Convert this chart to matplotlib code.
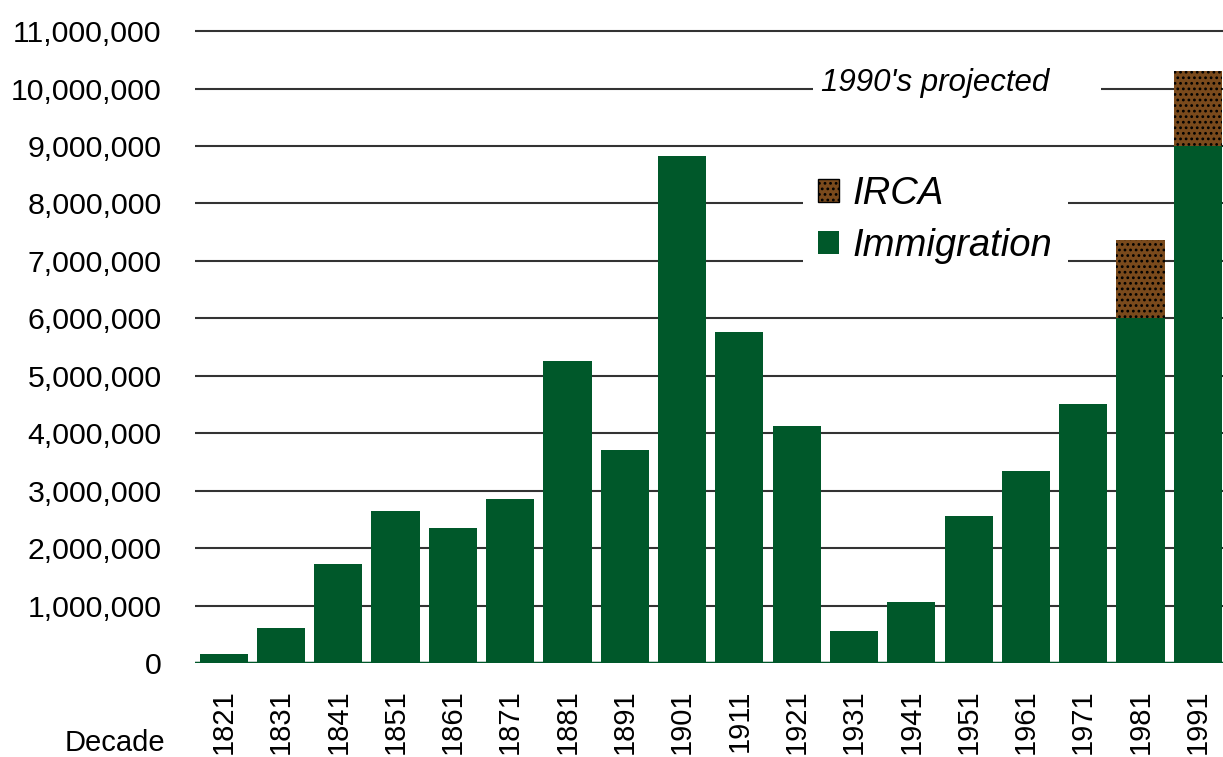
import matplotlib.pyplot as plt
from matplotlib.patches import Patch
from matplotlib.ticker import FuncFormatter

plt.rcParams['font.family'] = ['Liberation Sans', 'DejaVu Sans']
plt.rcParams['hatch.color'] = 'black'
plt.rcParams['hatch.linewidth'] = 1.2

# datos
decadas = ['1821', '1831', '1841', '1851', '1861', '1871', '1881', '1891', '1901',
           '1911', '1921', '1931', '1941', '1951', '1961', '1971', '1981', '1991']
inmigracion = [155000, 605000, 1720000, 2640000, 2350000, 2850000, 5260000, 3710000, 8820000,
               5760000, 4130000, 560000, 1060000, 2560000, 3340000, 4500000, 6000000, 9000000]
irca = [0, 0, 0, 0, 0, 0, 0, 0, 0, 0, 0, 0, 0, 0, 0, 0, 1360000, 1300000]

verde = '#00582a'
cafe = '#7a4a1c'

fig = plt.figure(figsize=(12.23, 7.57), dpi=100)
ax = fig.add_axes([195 / 1223, 94 / 757, 1 - 195 / 1223, 643.4 / 757])

x = range(len(decadas))
ax.bar(x, inmigracion, width=0.84, color=verde, zorder=3)
ax.bar(x, irca, width=0.84, bottom=inmigracion, facecolor=cafe, edgecolor='black',
       linewidth=0, hatch='...', zorder=3)
ax.axhline(0, color=verde, lw=2.5, zorder=4)

ax.set_xlim(-0.5, 17.44)
ax.set_ylim(0, 11200000)
ax.set_yticks(range(0, 11000001, 1000000))
ax.yaxis.set_major_formatter(FuncFormatter(lambda v, p: f'{int(v):,}'))
ax.set_xticks(list(x))
ax.set_xticklabels(decadas, rotation=90)
ax.tick_params(axis='y', length=0, pad=24, labelsize=21.8)
ax.tick_params(axis='x', length=0, pad=19, labelsize=21)
ax.grid(axis='y', color='#333333', lw=1.5, zorder=0)
ax.set_axisbelow(True)
for s in ax.spines.values():
    s.set_visible(False)

ax.text(12.8, 10100000, "1990's projected     ", fontsize=22.5, style='italic', ha='center',
        va='center', bbox=dict(facecolor='white', edgecolor='none', pad=6), zorder=2)

manijas = [Patch(facecolor=cafe, edgecolor='black', hatch='...', lw=1),
           Patch(facecolor=verde, edgecolor='none')]
leg = ax.legend(manijas, ['IRCA', 'Immigration'], loc='upper left',
                bbox_to_anchor=((803 - 195) / 1028, (663 - 161) / 643.4),
                prop={'style': 'italic', 'size': 27.5}, frameon=True,
                handlelength=0.55, handleheight=0.55, handletextpad=0.35,
                labelspacing=0.41, borderpad=0.4, borderaxespad=0)
leg.get_frame().set_facecolor('white')
leg.get_frame().set_edgecolor('none')
leg.get_frame().set_alpha(1)
leg.get_frame().set_boxstyle('square', pad=0)
leg.set_zorder(2)

fig.text(165 / 1223, (757 - 743) / 757, 'Decade', fontsize=21, ha='right', va='center')

fig.savefig('out.png', dpi=100)
